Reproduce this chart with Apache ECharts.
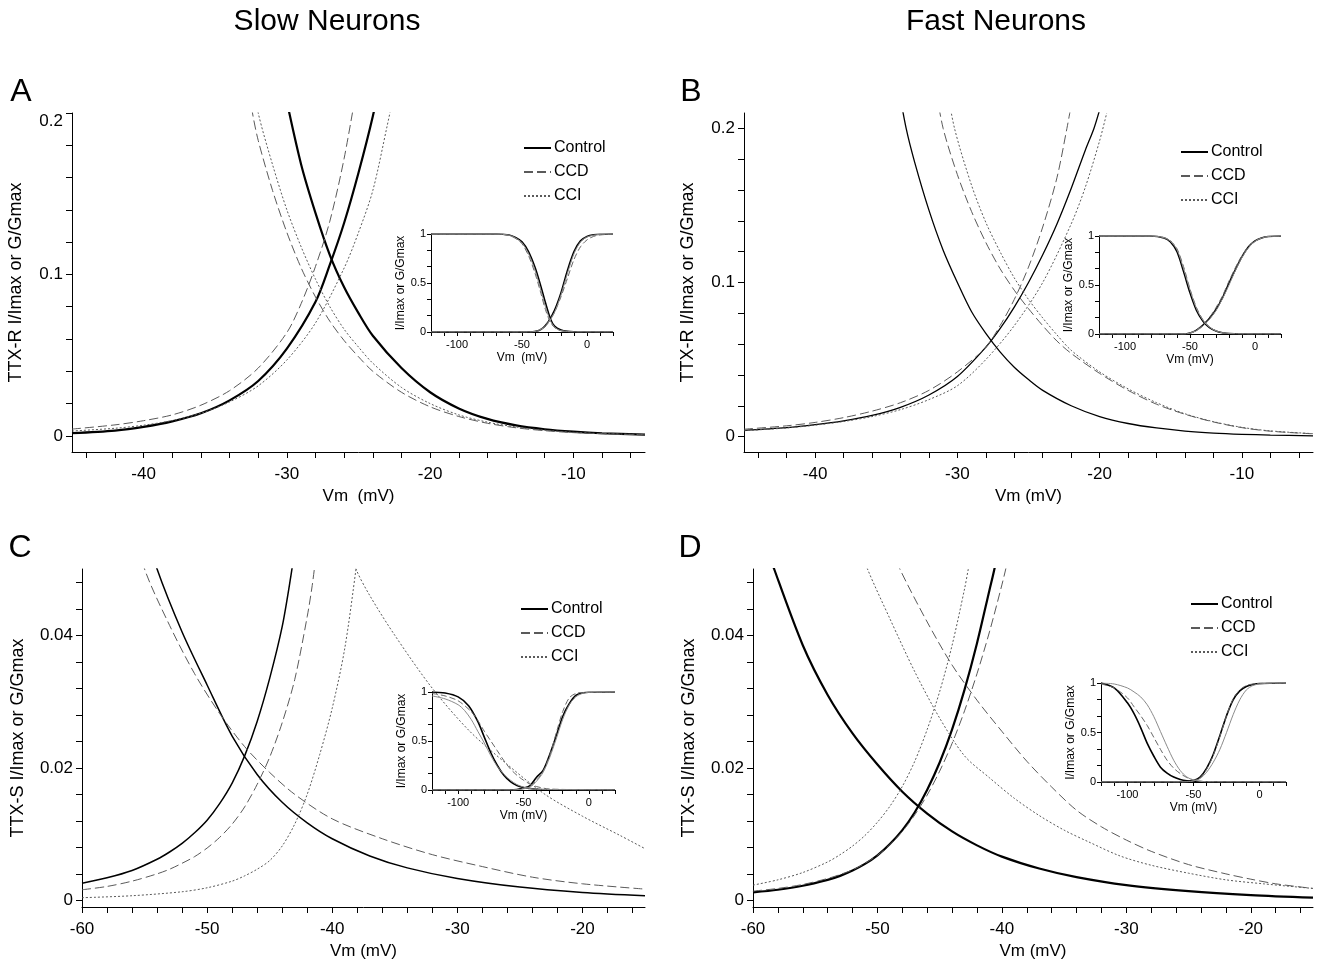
<!DOCTYPE html>
<html>
<head>
<meta charset="utf-8">
<title>Window currents - slow and fast neurons</title>
<script src="https://cdn.jsdelivr.net/npm/echarts@6.0.0/dist/echarts.min.js"></script>
<style>
  html, body { margin: 0; padding: 0; background: #fff; }
  #chart { width: 1318px; height: 961px; }
</style>
</head>
<body>
<div id="chart"></div>
<script>
// ---- tick values / labels ----
const trXTicks = [-44, -42, -40, -38, -36, -34, -32, -30, -28, -26, -24, -22, -20, -18, -16, -14, -12, -10, -8, -6];
const trXLabels = [-40, -30, -20, -10];
const trYTicks = [0, 0.02, 0.04, 0.06, 0.08, 0.1, 0.12, 0.14, 0.16, 0.18, 0.2];
const trYLabels = [0, 0.1, 0.2];
const tsXTicks = [-60, -58, -56, -54, -52, -50, -48, -46, -44, -42, -40, -38, -36, -34, -32, -30, -28, -26, -24, -22, -20, -18, -16];
const tsXLabels = [-60, -50, -40, -30, -20];
const tsYTicks = [0, 0.004, 0.008, 0.012, 0.016, 0.02, 0.024, 0.028, 0.032, 0.036, 0.04, 0.044, 0.048];
const tsYLabels = [0, 0.02, 0.04];
const inXTicks = [-120, -110, -100, -90, -80, -70, -60, -50, -40, -30, -20, -10, 0, 10, 20];
const inXLabels = [-100, -50, 0];
const inYTicks = [0, 0.1667, 0.3333, 0.5, 0.6667, 0.8333, 1];
const inYLabels = [0, 0.5, 1];

// ---- A: slow neurons, TTX-R ----
const aCtrlAct = [[-45,0.0017],[-42,0.0033],[-40,0.0056],[-38,0.009],[-36,0.014],[-34,0.022],[-32,0.034],[-30,0.054],[-28,0.083],[-27,0.106],[-26,0.132],[-25,0.163],[-24,0.198],[-23,0.24]];
const aCtrlInact = [[-31,0.25],[-30,0.207],[-29,0.168],[-28,0.138],[-27,0.112],[-26,0.092],[-25,0.076],[-24,0.062],[-22,0.042],[-20,0.027],[-18,0.017],[-16,0.0105],[-14,0.0065],[-12,0.0041],[-10,0.0026],[-8,0.0016],[-5,0.0008]];
const aCcdAct = [[-45,0.0042],[-42,0.0068],[-40,0.0094],[-38,0.013],[-36,0.019],[-34,0.028],[-32,0.042],[-30,0.064],[-29,0.082],[-28,0.105],[-27,0.133],[-26,0.172],[-25,0.222]];
const aCcdInact = [[-33,0.235],[-32.4,0.2],[-32,0.183],[-31,0.152],[-30,0.126],[-29,0.104],[-28,0.086],[-27,0.071],[-26,0.059],[-25,0.049],[-24,0.04],[-22,0.027],[-20,0.018],[-18,0.012],[-16,0.0078],[-14,0.005],[-12,0.0032],[-10,0.002],[-8,0.0013],[-5,0.0007]];
const aCciAct = [[-45,0.003],[-42,0.0047],[-40,0.0066],[-38,0.0095],[-36,0.014],[-34,0.021],[-32,0.031],[-30,0.047],[-28,0.07],[-26,0.104],[-25,0.126],[-24,0.152],[-23,0.192],[-22.5,0.213]];
const aCciInact = [[-32.6,0.23],[-32,0.2],[-31,0.168],[-30,0.14],[-29,0.117],[-28,0.097],[-27,0.08],[-26,0.066],[-25,0.055],[-24,0.045],[-22,0.03],[-20,0.02],[-18,0.013],[-16,0.0085],[-14,0.0055],[-12,0.0035],[-10,0.0022],[-8,0.0014],[-5,0.0008]];
const aInCtrlInact = [[-120,1],[-70,1],[-60,0.99],[-55,0.965],[-50,0.92],[-45,0.82],[-40,0.66],[-36,0.49],[-32,0.3],[-28,0.13],[-25,0.06],[-20,0.02],[-15,0.006],[-10,0.002],[0,0],[20,0]];
const aInCcdInact = [[-120,1],[-70,1],[-60,0.985],[-55,0.955],[-50,0.9],[-45,0.78],[-40,0.6],[-36,0.42],[-32,0.23],[-28,0.095],[-24,0.035],[-20,0.012],[-10,0.001],[20,0]];
const aInCciInact = [[-120,1],[-70,1],[-60,0.988],[-55,0.96],[-50,0.91],[-45,0.8],[-40,0.63],[-36,0.45],[-32,0.26],[-28,0.11],[-24,0.04],[-20,0.014],[-10,0.0015],[20,0]];
const aInCtrlAct = [[-120,0],[-45,0],[-40,0.005],[-35,0.03],[-30,0.1],[-25,0.22],[-20,0.4],[-15,0.63],[-10,0.82],[-5,0.93],[0,0.975],[5,0.993],[10,0.998],[20,1]];
const aInCcdAct = [[-120,0],[-45,0],[-40,0.007],[-35,0.035],[-30,0.1],[-25,0.2],[-20,0.36],[-15,0.55],[-10,0.74],[-5,0.87],[0,0.94],[5,0.975],[10,0.99],[20,1]];
const aInCciAct = [[-120,0],[-45,0],[-40,0.005],[-35,0.028],[-30,0.09],[-25,0.2],[-20,0.38],[-15,0.6],[-10,0.8],[-5,0.92],[0,0.97],[10,0.997],[20,1]];

// ---- B: fast neurons, TTX-R ----
const bCtrlAct = [[-45,0.004],[-42,0.0058],[-40,0.0077],[-38,0.0102],[-36,0.0137],[-34,0.019],[-32,0.027],[-30,0.039],[-28,0.058],[-27,0.07],[-26,0.084],[-25,0.1],[-24,0.118],[-23,0.138],[-22,0.161],[-21,0.186],[-20.4,0.2],[-20,0.212]];
const bCtrlInact = [[-34.2,0.23],[-33.6,0.2],[-33,0.178],[-32,0.147],[-31,0.121],[-30,0.1],[-29,0.081],[-28,0.067],[-27,0.055],[-26,0.045],[-25,0.037],[-24,0.03],[-22,0.02],[-20,0.013],[-18,0.0085],[-16,0.0056],[-14,0.0036],[-12,0.0023],[-10,0.0015],[-8,0.001],[-5,0.0005]];
const bCcdAct = [[-45,0.0048],[-42,0.007],[-40,0.0092],[-38,0.0123],[-36,0.0165],[-34,0.022],[-32,0.03],[-30,0.042],[-28,0.058],[-27,0.072],[-26,0.089],[-25,0.11],[-24,0.136],[-23,0.168],[-22.3,0.2],[-22,0.215]];
const bCcdInact = [[-31.6,0.23],[-31,0.2],[-30,0.17],[-29,0.146],[-28,0.126],[-27,0.109],[-26,0.095],[-25,0.083],[-24,0.072],[-23,0.062],[-22,0.054],[-20,0.041],[-18,0.03],[-16,0.021],[-14,0.0145],[-12,0.0095],[-10,0.0058],[-8,0.0035],[-5,0.0018]];
const bCciAct = [[-45,0.0038],[-42,0.0056],[-40,0.0074],[-38,0.0098],[-36,0.013],[-34,0.0175],[-32,0.024],[-30,0.033],[-28,0.05],[-26,0.072],[-24,0.1],[-22,0.138],[-21,0.162],[-20,0.192],[-19.5,0.21]];
const bCciInact = [[-30.8,0.23],[-30.2,0.2],[-29,0.163],[-28,0.139],[-27,0.12],[-26,0.103],[-25,0.089],[-24,0.077],[-23,0.066],[-22,0.056],[-20,0.042],[-18,0.031],[-16,0.022],[-14,0.0148],[-12,0.0097],[-10,0.006],[-8,0.0037],[-5,0.0019]];
const bInCtrlInact = [[-120,1],[-80,1],[-70,0.98],[-65,0.94],[-60,0.84],[-55,0.64],[-50,0.42],[-45,0.24],[-40,0.13],[-35,0.065],[-30,0.03],[-25,0.012],[-20,0.004],[-10,0.001],[20,0]];
const bInCcdInact = [[-120,1],[-80,1],[-70,0.985],[-65,0.95],[-60,0.87],[-55,0.69],[-50,0.46],[-45,0.27],[-40,0.145],[-35,0.072],[-30,0.033],[-25,0.013],[-20,0.005],[-10,0.001],[20,0]];
const bInCciInact = [[-120,1],[-80,1],[-70,0.982],[-65,0.945],[-60,0.86],[-55,0.67],[-50,0.45],[-45,0.26],[-40,0.14],[-35,0.07],[-30,0.032],[-25,0.013],[-20,0.005],[-10,0.001],[20,0]];
const bInCtrlAct = [[-120,0],[-55,0],[-50,0.01],[-45,0.04],[-40,0.09],[-35,0.16],[-30,0.25],[-25,0.37],[-20,0.52],[-15,0.66],[-10,0.79],[-5,0.89],[0,0.95],[5,0.98],[10,0.995],[20,1]];
const bInCcdAct = [[-120,0],[-55,0],[-50,0.011],[-45,0.042],[-40,0.095],[-35,0.17],[-30,0.27],[-25,0.39],[-20,0.54],[-15,0.68],[-10,0.8],[-5,0.895],[0,0.95],[5,0.98],[10,0.995],[20,1]];
const bInCciAct = [[-120,0],[-55,0],[-50,0.008],[-45,0.035],[-40,0.082],[-35,0.15],[-30,0.24],[-25,0.36],[-20,0.5],[-15,0.65],[-10,0.78],[-5,0.88],[0,0.945],[5,0.978],[10,0.994],[20,1]];

// ---- C: slow neurons, TTX-S ----
const cCtrlAct = [[-60,0.0026],[-58,0.0034],[-56,0.0045],[-54,0.0062],[-53,0.0073],[-52,0.0086],[-51,0.0102],[-50,0.0121],[-49,0.0146],[-48,0.0177],[-47,0.0218],[-46,0.027],[-45,0.0335],[-44,0.0413],[-43.3,0.049],[-43,0.053]];
const cCtrlInact = [[-54.5,0.054],[-54,0.05],[-52,0.0405],[-50,0.0325],[-48,0.0248],[-46,0.019],[-44,0.0148],[-42,0.0117],[-40,0.0093],[-37,0.0067],[-34,0.0049],[-30,0.0033],[-25,0.002],[-20,0.0012],[-15,0.0007]];
const cCcdAct = [[-60,0.0016],[-58,0.0021],[-56,0.0029],[-54,0.004],[-53,0.0047],[-52,0.0056],[-51,0.0066],[-50,0.0079],[-49,0.0095],[-48,0.0115],[-47,0.0141],[-46,0.0175],[-45,0.0216],[-44,0.0268],[-43,0.0333],[-42,0.0428],[-41.6,0.0475],[-41.3,0.052]];
const cCcdInact = [[-55.5,0.055],[-55,0.05],[-53,0.0415],[-51,0.0342],[-49,0.0282],[-47,0.0232],[-45,0.0193],[-43,0.016],[-40,0.0123],[-36,0.0093],[-32,0.0069],[-28,0.0051],[-24,0.0035],[-20,0.0025],[-15,0.0017]];
const cCciAct = [[-60,0.0004],[-56,0.0007],[-52,0.0013],[-50,0.0019],[-48,0.0029],[-47,0.0037],[-46,0.0047],[-45,0.006],[-44,0.0082],[-43,0.0115],[-42,0.016],[-41,0.022],[-40,0.029],[-39,0.038],[-38.1,0.05],[-37.8,0.055]];
const cCciInact = [[-38.5,0.053],[-38.1,0.05],[-37,0.046],[-35,0.04],[-32,0.032],[-29,0.0255],[-26,0.0205],[-23,0.016],[-20,0.0127],[-17,0.0098],[-15,0.0078]];
const cInCtrlInact = [[-120,1],[-110,0.99],[-100,0.95],[-92,0.86],[-85,0.7],[-80,0.54],[-75,0.38],[-70,0.25],[-65,0.15],[-60,0.085],[-55,0.045],[-50,0.025],[-45,0.015],[-40,0.008],[-30,0.002],[20,0]];
const cInCcdInact = [[-120,0.985],[-110,0.96],[-100,0.91],[-90,0.8],[-85,0.71],[-80,0.6],[-75,0.5],[-70,0.4],[-65,0.3],[-60,0.215],[-55,0.15],[-50,0.1],[-45,0.06],[-40,0.035],[-30,0.01],[20,0]];
const cInCciInact = [[-120,0.96],[-110,0.93],[-100,0.87],[-95,0.81],[-90,0.72],[-85,0.6],[-80,0.48],[-75,0.35],[-70,0.24],[-65,0.16],[-60,0.1],[-55,0.055],[-50,0.03],[-45,0.015],[-40,0.007],[20,0]];
const cInCtrlAct = [[-120,0],[-60,0],[-55,0.005],[-50,0.02],[-45,0.045],[-40,0.13],[-35,0.2],[-30,0.36],[-25,0.55],[-20,0.75],[-15,0.88],[-10,0.965],[-5,0.99],[0,0.998],[20,1]];
const cInCcdAct = [[-120,0],[-60,0],[-55,0.004],[-50,0.016],[-45,0.04],[-40,0.1],[-35,0.19],[-30,0.35],[-25,0.58],[-20,0.8],[-15,0.94],[-10,0.985],[-5,0.995],[20,1]];
const cInCciAct = [[-120,0],[-60,0],[-55,0.003],[-50,0.012],[-45,0.03],[-40,0.09],[-35,0.18],[-30,0.33],[-25,0.52],[-20,0.72],[-15,0.87],[-10,0.95],[-5,0.985],[0,0.997],[20,1]];

// ---- D: fast neurons, TTX-S ----
const dCtrlAct = [[-60,0.0012],[-58,0.0016],[-56,0.0022],[-54,0.0031],[-53,0.0037],[-52,0.0045],[-51,0.0055],[-50,0.0068],[-49,0.0085],[-48,0.0106],[-47,0.0133],[-46,0.0167],[-45,0.0208],[-44,0.0258],[-43,0.0318],[-42,0.0388],[-41,0.0468],[-40.6,0.05],[-40.3,0.053]];
const dCtrlInact = [[-58.8,0.053],[-58.3,0.05],[-56,0.0385],[-54,0.031],[-52,0.0252],[-50,0.0205],[-48,0.0164],[-46,0.0131],[-44,0.0104],[-42,0.0083],[-40,0.0066],[-37,0.0048],[-34,0.0035],[-30,0.0023],[-25,0.0014],[-20,0.0008],[-15,0.0004]];
const dCcdAct = [[-60,0.0014],[-58,0.0018],[-56,0.0024],[-54,0.0033],[-53,0.0039],[-52,0.0046],[-51,0.0056],[-50,0.0068],[-49,0.0084],[-48,0.0104],[-47,0.0129],[-46,0.0159],[-45,0.0195],[-44,0.0237],[-43,0.0286],[-42,0.0342],[-41,0.0405],[-40,0.0476],[-39.6,0.0507],[-39.3,0.053]];
const dCcdInact = [[-48.8,0.053],[-48.2,0.05],[-46,0.042],[-44,0.0355],[-42,0.0302],[-40,0.0255],[-38,0.021],[-36,0.0171],[-34,0.0136],[-32,0.0111],[-30,0.0091],[-28,0.0074],[-25,0.0054],[-22,0.004],[-20,0.0032],[-18,0.0025],[-15,0.0018]];
const dCciAct = [[-60,0.0023],[-58,0.0031],[-56,0.0042],[-54,0.0058],[-53,0.0069],[-52,0.0082],[-51,0.0098],[-50,0.0118],[-49,0.0142],[-48,0.0172],[-47,0.021],[-46,0.0258],[-45,0.0315],[-44,0.0385],[-43,0.047],[-42.7,0.05],[-42.4,0.053]];
const dCciInact = [[-51.3,0.053],[-50.8,0.05],[-49,0.0425],[-47,0.0345],[-45,0.0275],[-43,0.0218],[-41,0.0185],[-39,0.0154],[-37,0.0128],[-35,0.0106],[-33,0.0088],[-30.5,0.0067],[-28,0.0053],[-25,0.0041],[-22,0.0031],[-19,0.0025],[-15,0.0018]];
const dInCtrlInact = [[-120,1],[-110,0.95],[-100,0.8],[-95,0.69],[-90,0.55],[-85,0.39],[-80,0.26],[-75,0.15],[-70,0.09],[-65,0.05],[-60,0.025],[-55,0.012],[-50,0.006],[-40,0.001],[20,0]];
const dInCcdInact = [[-120,0.99],[-110,0.95],[-100,0.85],[-95,0.76],[-90,0.67],[-85,0.57],[-80,0.45],[-75,0.33],[-70,0.22],[-65,0.14],[-60,0.085],[-55,0.045],[-50,0.02],[-45,0.008],[-40,0.003],[20,0]];
const dInCciInact = [[-120,1],[-110,0.99],[-100,0.95],[-95,0.91],[-90,0.86],[-85,0.78],[-80,0.66],[-75,0.51],[-70,0.36],[-65,0.22],[-60,0.115],[-55,0.05],[-50,0.02],[-45,0.007],[-40,0.002],[20,0]];
const dInCtrlAct = [[-120,0],[-60,0],[-55,0.003],[-50,0.015],[-45,0.05],[-40,0.14],[-35,0.28],[-30,0.47],[-25,0.67],[-20,0.83],[-15,0.92],[-10,0.965],[-5,0.985],[0,0.995],[20,1]];
const dInCcdAct = [[-120,0],[-60,0],[-55,0.003],[-50,0.013],[-45,0.045],[-40,0.13],[-35,0.27],[-30,0.46],[-25,0.67],[-20,0.84],[-15,0.93],[-10,0.975],[-5,0.99],[0,0.997],[20,1]];
const dInCciAct = [[-120,0],[-60,0],[-55,0.002],[-50,0.01],[-45,0.035],[-40,0.1],[-35,0.2],[-30,0.33],[-25,0.5],[-20,0.68],[-15,0.83],[-10,0.93],[-5,0.975],[0,0.99],[10,1],[20,1]];

const FONT = '"Liberation Sans", Arial, Helvetica, sans-serif';

// panel layout: main grid + inset grid
const panels = [
  { key: 'A', main: { left: 72, top: 113, width: 573, height: 339 }, inset: { left: 431, top: 234, width: 182, height: 98 },
    xMin: -45, xMax: -5, yMin: -0.01, yMax: 0.2, xTicks: trXTicks, xLabels: trXLabels, yTicks: trYTicks, yLabels: trYLabels,
    xName: 'Vm  (mV)', yName: 'TTX-R I/Imax or G/Gmax', inXName: 'Vm  (mV)', yGap: 47, ctrlW: 2.2,
    legend: { left: 523, top: 140 },
    main_: [aCtrlAct, aCtrlInact, aCcdAct, aCcdInact, aCciAct, aCciInact],
    in_: [aInCtrlAct, aInCtrlInact, aInCcdAct, aInCcdInact, aInCciAct, aInCciInact] },
  { key: 'B', main: { left: 744, top: 113, width: 569, height: 339 }, inset: { left: 1099, top: 236, width: 182, height: 98 },
    xMin: -45, xMax: -5, yMin: -0.01, yMax: 0.21, xTicks: trXTicks, xLabels: trXLabels, yTicks: trYTicks, yLabels: trYLabels,
    xName: 'Vm (mV)', yName: 'TTX-R I/Imax or G/Gmax', inXName: 'Vm (mV)', yGap: 47, ctrlW: 1.3,
    legend: { left: 1180, top: 144 },
    main_: [bCtrlAct, bCtrlInact, bCcdAct, bCcdInact, bCciAct, bCciInact],
    in_: [bInCtrlAct, bInCtrlInact, bInCcdAct, bInCcdInact, bInCciAct, bInCciInact] },
  { key: 'C', main: { left: 82, top: 569, width: 563, height: 339 }, inset: { left: 432, top: 692, width: 183, height: 98 },
    xMin: -60, xMax: -15, yMin: -0.001, yMax: 0.05, xTicks: tsXTicks, xLabels: tsXLabels, yTicks: tsYTicks, yLabels: tsYLabels,
    xName: 'Vm (mV)', yName: 'TTX-S I/Imax or G/Gmax', inXName: 'Vm (mV)', yGap: 55, ctrlW: 1.5,
    legend: { left: 520, top: 601 },
    main_: [cCtrlAct, cCtrlInact, cCcdAct, cCcdInact, cCciAct, cCciInact],
    in_: [cInCtrlAct, cInCtrlInact, cInCcdAct, cInCcdInact, cInCciAct, cInCciInact] },
  { key: 'D', main: { left: 753, top: 569, width: 560, height: 339 }, inset: { left: 1101, top: 683, width: 185, height: 99 },
    xMin: -60, xMax: -15, yMin: -0.001, yMax: 0.05, xTicks: tsXTicks, xLabels: tsXLabels, yTicks: tsYTicks, yLabels: tsYLabels,
    xName: 'Vm (mV)', yName: 'TTX-S I/Imax or G/Gmax', inXName: 'Vm (mV)', yGap: 55, ctrlW: 2.2,
    legend: { left: 1190, top: 596 },
    main_: [dCtrlAct, dCtrlInact, dCcdAct, dCcdInact, dCciAct, dCciInact],
    in_: [dInCtrlAct, dInCtrlInact, dInCcdAct, dInCcdInact, dInCciAct, dInCciInact] }
];

const grids = [], xAxes = [], yAxes = [], series = [], legends = [];

const axisBase = (gridIndex, min, max, ticks, labels, fontSize, tickLen, margin) => ({
  type: 'value', gridIndex, min, max,
  axisLine: { show: true, onZero: false, lineStyle: { color: '#000', width: 1 } },
  axisTick: { show: true, inside: false, length: tickLen, customValues: ticks, lineStyle: { color: '#000', width: 1 } },
  axisLabel: { customValues: labels, fontSize, color: '#000', fontFamily: FONT, margin },
  splitLine: { show: false }
});

const mainStyles = (w) => [
  { name: 'Control', lineStyle: { color: '#000', width: w } },
  { name: 'CCD', lineStyle: { color: '#5a5a5a', width: 1, type: [9, 4] } },
  { name: 'CCI', lineStyle: { color: '#5a5a5a', width: 1, type: [2, 2] } }
];
const insetStyles = [
  { lineStyle: { color: '#000', width: 1.6 } },
  { lineStyle: { color: '#666', width: 1, type: [6, 3] } },
  { lineStyle: { color: '#8a8a8a', width: 1 } }
];

panels.forEach((p) => {
  const gm = grids.length;
  grids.push(p.main);
  const mx = axisBase(gm, p.xMin, p.xMax, p.xTicks, p.xLabels, 17, 6, 14);
  mx.position = 'bottom';
  mx.name = p.xName; mx.nameLocation = 'middle'; mx.nameGap = 36;
  mx.nameTextStyle = { fontSize: 17, color: '#000', fontFamily: FONT };
  xAxes.push(mx);
  const my = axisBase(gm, p.yMin, p.yMax, p.yTicks, p.yLabels, 17, 6, 9);
  my.position = 'left';
  my.name = p.yName; my.nameLocation = 'middle'; my.nameGap = p.yGap;
  my.nameTextStyle = { fontSize: 18, color: '#000', fontFamily: FONT };
  my.axisLabel.verticalAlignMaxLabel = p.key === 'A' ? 'top' : null;
  yAxes.push(my);

  const gi = grids.length;
  grids.push(p.inset);
  const ix = axisBase(gi, -120, 20, inXTicks, inXLabels, 11, 4, 7);
  ix.position = 'bottom';
  ix.name = p.inXName; ix.nameLocation = 'middle'; ix.nameGap = 20;
  ix.nameTextStyle = { fontSize: 12, color: '#000', fontFamily: FONT };
  xAxes.push(ix);
  const iy = axisBase(gi, 0, 1, inYTicks, inYLabels, 11, 4, 5);
  iy.position = 'left';
  iy.name = 'I/Imax or G/Gmax'; iy.nameLocation = 'middle'; iy.nameGap = 22;
  iy.nameTextStyle = { fontSize: 12, color: '#000', fontFamily: FONT };
  yAxes.push(iy);

  const ms = mainStyles(p.ctrlW);
  p.main_.forEach((d, k) => {
    const st = ms[Math.floor(k / 2)];
    series.push({
      type: 'line', name: st.name, data: d, xAxisIndex: gm, yAxisIndex: gm,
      symbol: 'none', smooth: 0.3, clip: true, silent: true,
      lineStyle: st.lineStyle, itemStyle: { color: st.lineStyle.color }
    });
  });
  p.in_.forEach((d, k) => {
    const st = insetStyles[Math.floor(k / 2)];
    series.push({
      type: 'line', name: 'inset ' + k, data: d, xAxisIndex: gi, yAxisIndex: gi,
      symbol: 'none', smooth: 0.3, clip: true, silent: true,
      lineStyle: st.lineStyle, itemStyle: { color: st.lineStyle.color }
    });
  });

  legends.push({
    orient: 'vertical', left: p.legend.left, top: p.legend.top, padding: 0,
    itemWidth: 27, itemHeight: 14, itemGap: 8, selectedMode: false,
    itemStyle: { opacity: 0 },
    data: ['Control', 'CCD', 'CCI'],
    textStyle: { fontSize: 16, color: '#000', fontFamily: FONT, padding: [0, 0, 0, -2] }
  });
});

const txt = (text, x, y, size) => ({
  type: 'text', x, y, silent: true,
  style: { text, fontSize: size, fontFamily: FONT, fill: '#000', align: 'center', verticalAlign: 'middle' }
});

const chart = echarts.init(document.getElementById('chart'));
chart.setOption({
  animation: false,
  backgroundColor: '#fff',
  grid: grids,
  xAxis: xAxes,
  yAxis: yAxes,
  legend: legends,
  series,
  graphic: [
    txt('Slow Neurons', 327, 22, 30),
    txt('Fast Neurons', 996, 22, 30),
    txt('A', 21, 92, 32),
    txt('B', 691, 92, 32),
    txt('C', 20, 548, 32),
    txt('D', 690, 548, 32)
  ]
});
</script>
</body>
</html>
